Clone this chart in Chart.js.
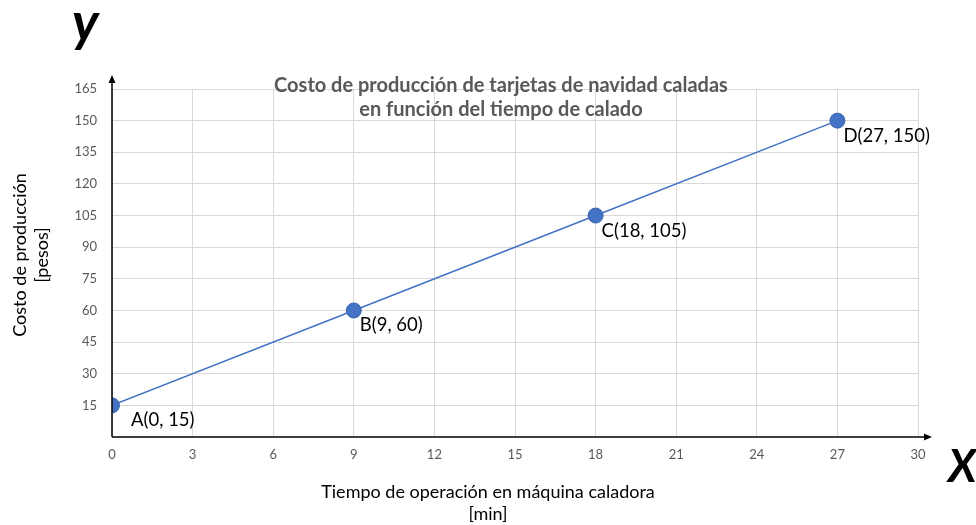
<!DOCTYPE html>
<html>
<head>
<meta charset="utf-8">
<script src="https://cdn.jsdelivr.net/npm/chart.js@4.4.1/dist/chart.umd.min.js"></script>
<style>
  html, body { margin: 0; padding: 0; background: #fff; }
  #wrap { width: 976px; height: 525px; position: relative; }
</style>
</head>
<body>
<div id="wrap"><canvas id="chart" width="976" height="525"></canvas></div>
<script>
// Datos del gráfico
const tiempos = [0, 9, 18, 27];
const costos = [15, 60, 105, 150];
const etiquetas = ["A(0, 15)", "B(9, 60)", "C(18, 105)", "D(27, 150)"];
const xTicks = [0, 3, 6, 9, 12, 15, 18, 21, 24, 27, 30];
const yTicks = [15, 30, 45, 60, 75, 90, 105, 120, 135, 150, 165];

const FONT = "Lato, 'Open Sans', sans-serif";

// Textos y flechas encima del gráfico
const extras = {
    id: "extras",
    afterDraw(chart) {
        const ctx = chart.ctx;
        const xs = chart.scales.x, ys = chart.scales.y;
        const area = chart.chartArea;
        ctx.save();

        // ejes con flecha
        ctx.strokeStyle = "#000";
        ctx.fillStyle = "#000";
        ctx.lineWidth = 1.5;
        ctx.beginPath();
        ctx.moveTo(area.left, area.bottom);
        ctx.lineTo(area.right + 8, area.bottom);
        ctx.moveTo(area.left, area.bottom);
        ctx.lineTo(area.left, area.top - 8);
        ctx.stroke();
        ctx.beginPath();
        ctx.moveTo(area.right + 14, area.bottom);
        ctx.lineTo(area.right + 6, area.bottom - 3.5);
        ctx.lineTo(area.right + 6, area.bottom + 3.5);
        ctx.closePath();
        ctx.fill();
        ctx.beginPath();
        ctx.moveTo(area.left, area.top - 14);
        ctx.lineTo(area.left - 3.5, area.top - 6);
        ctx.lineTo(area.left + 3.5, area.top - 6);
        ctx.closePath();
        ctx.fill();

        // título
        ctx.fillStyle = "#595959";
        ctx.font = "bold 20px " + FONT;
        ctx.textAlign = "center";
        ctx.textBaseline = "middle";
        ctx.fillText("Costo de producción de tarjetas de navidad caladas", 501, 86);
        ctx.fillText("en función del tiempo de calado", 501, 110);

        // títulos de ejes
        ctx.fillStyle = "#000";
        ctx.font = "18px " + FONT;
        ctx.fillText("Tiempo de operación en máquina caladora", 488, 492);
        ctx.fillText("[min]", 488, 514);
        ctx.save();
        ctx.translate(20, 255);
        ctx.rotate(-Math.PI / 2);
        ctx.fillText("Costo de producción", 0, 0);
        ctx.fillText("[pesos]", 0, 22);
        ctx.restore();

        // etiquetas de puntos
        ctx.textAlign = "left";
        ctx.font = "18.5px " + FONT;
        tiempos.forEach((t, i) => {
            const px = xs.getPixelForValue(t);
            const py = ys.getPixelForValue(costos[i]);
            const dx = i === 0 ? 19 : 6;
            ctx.fillText(etiquetas[i], px + dx, py + 15);
        });

        // letras grandes x, y
        ctx.textBaseline = "alphabetic";
        ctx.font = "italic bold 54px " + FONT;
        ctx.fillText("y", 72, 41);
        ctx.font = "italic bold 45px " + FONT;
        ctx.fillText("X", 948, 482);
        ctx.restore();
    }
};

new Chart(document.getElementById("chart"), {
    type: "scatter",
    data: {
        datasets: [{
            data: tiempos.map((t, i) => ({ x: t, y: costos[i] })),
            showLine: true,
            borderColor: "#4472C4",
            borderWidth: 1.5,
            backgroundColor: "#4472C4",
            pointBorderColor: "#3A64AE",
            pointBorderWidth: 1,
            pointRadius: 7.5,
            pointHoverRadius: 7.5
        }]
    },
    options: {
        responsive: false,
        animation: false,
        devicePixelRatio: 1,
        layout: { padding: { left: 0, right: 58, top: 89, bottom: 0 } },
        plugins: { legend: { display: false }, tooltip: { enabled: false } },
        scales: {
            x: {
                type: "linear",
                min: 0, max: 30,
                afterBuildTicks: s => { s.ticks = xTicks.map(v => ({ value: v })); },
                afterFit: s => { s.height = 88; },
                grid: { color: "#D9D9D9", lineWidth: 1, drawTicks: false },
                border: { display: false },
                ticks: { color: "#595959", font: { family: FONT, size: 13 }, padding: 10, maxRotation: 0 }
            },
            y: {
                type: "linear",
                min: 0, max: 165,
                afterBuildTicks: s => { s.ticks = yTicks.map(v => ({ value: v })); },
                afterFit: s => { s.width = 112; },
                grid: { color: "#D9D9D9", lineWidth: 1, drawTicks: false },
                border: { display: false },
                ticks: { color: "#595959", font: { family: FONT, size: 13 }, padding: 15 }
            }
        }
    },
    plugins: [extras]
});
</script>
</body>
</html>
